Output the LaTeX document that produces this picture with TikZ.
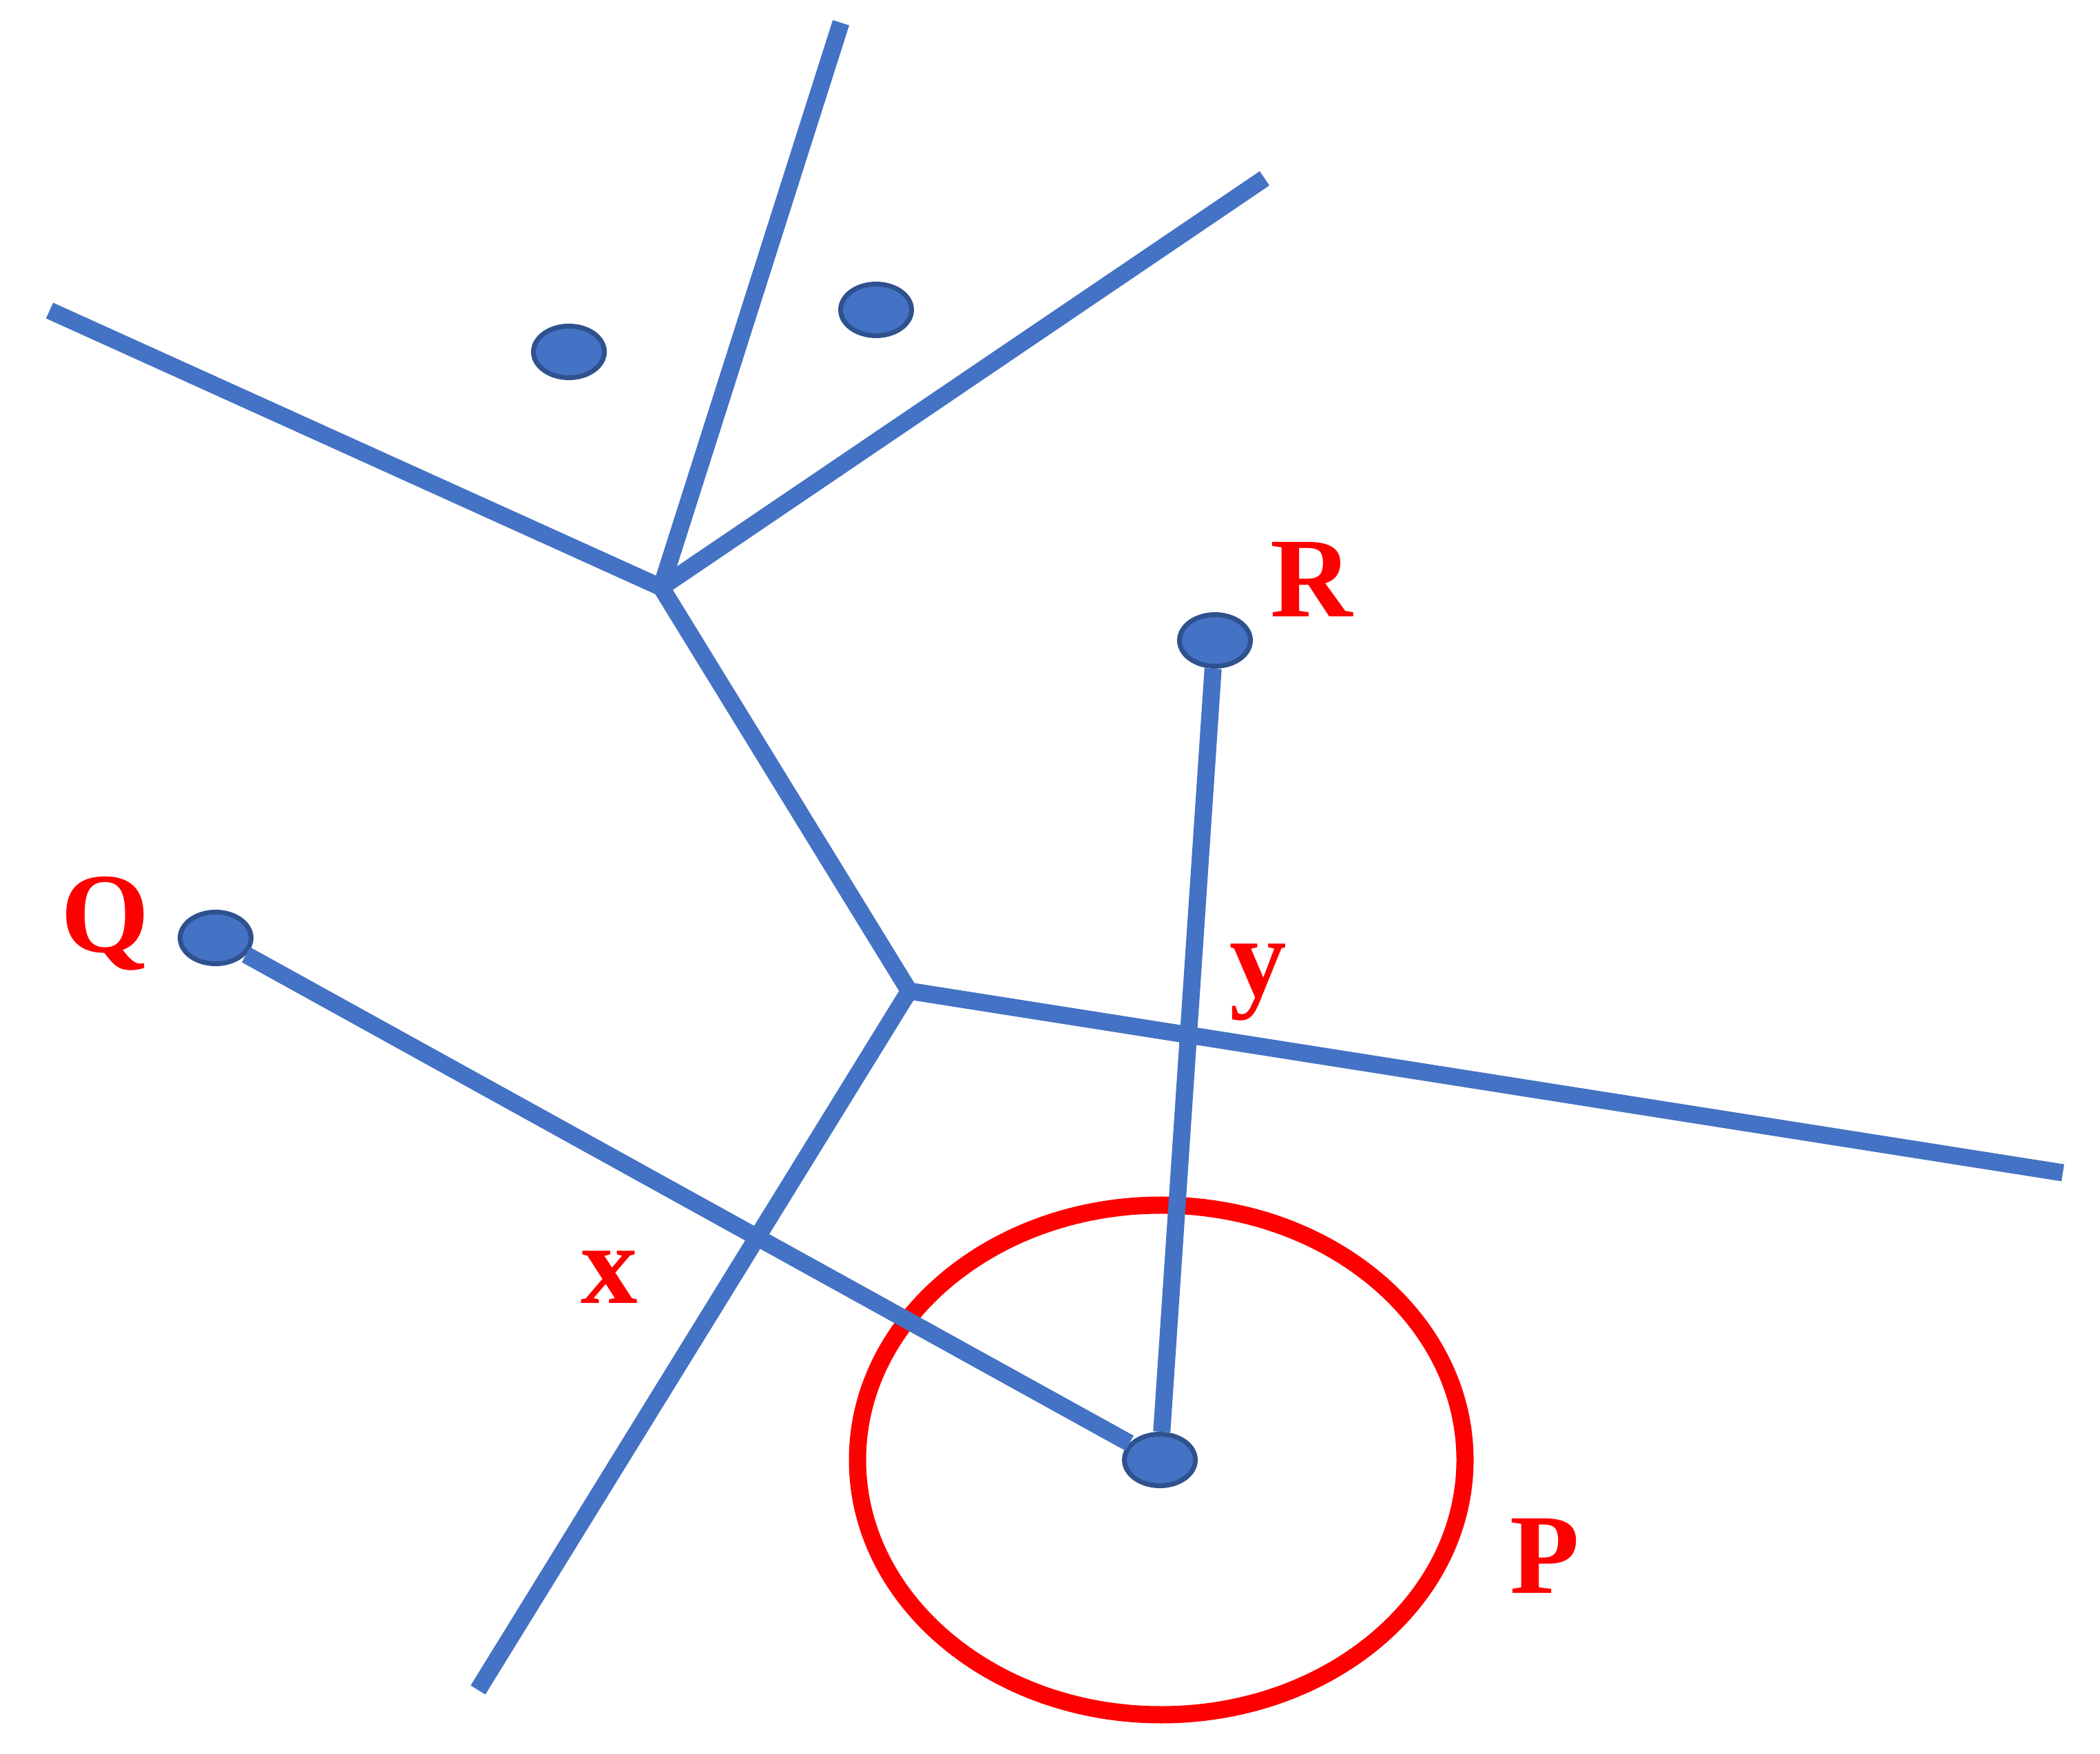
\documentclass[tikz,border=0pt]{standalone}
\usepackage{fontspec}
\setmainfont{Liberation Serif}
\usepackage{tikz}
\usetikzlibrary{shapes.geometric, positioning, calc}
\definecolor{edgeblue}{RGB}{68, 114, 196}
\definecolor{dotborder}{RGB}{47, 82, 143}
\definecolor{ringred}{RGB}{255, 0, 0}
\tikzset{
  celledge/.style={line width=0.25cm, edgeblue},
  siteline/.style={line width=0.25cm, edgeblue},
  sitedot/.style={ellipse, draw=dotborder, fill=edgeblue, line width=0.07cm, minimum width=1.03cm, minimum height=0.75cm, inner sep=0pt},
  ptlabel/.style={text=ringred, font=\bfseries\fontsize{47}{56}\selectfont, anchor=base, inner sep=0pt},
  ring/.style={line width=0.25cm, ringred}
}
\begin{document}
\begin{tikzpicture}
\useasboundingbox (0,0) rectangle (30.49,25.46);
% Voronoi vertices and edge ends
\coordinate (va) at (9.60,16.93);
\coordinate (vb) at (13.20,11.07);
\coordinate (e1) at (0.72,20.95);
\coordinate (e2) at (12.21,25.13);
\coordinate (e3) at (18.36,22.87);
\coordinate (e4) at (29.95,8.43);
\coordinate (e5) at (6.94,0.92);
\draw[celledge] (e1) -- (va);
\draw[celledge] (e2) -- (va);
\draw[celledge] (e3) -- (va);
\draw[celledge] (va) -- (vb);
\draw[celledge] (vb) -- (e4);
\draw[celledge] (vb) -- (e5);
% circle round P
\draw[ring] (16.86,4.26) ellipse [x radius=4.41, y radius=3.70];
% sites
\node[sitedot] (s1) at (8.26,20.35) {};
\node[sitedot] (s2) at (12.72,20.96) {};
\node[sitedot] (r) at (17.64,16.16) {};
\node[sitedot] (q) at (3.13,11.84) {};
\node[sitedot] (p) at (16.84,4.26) {};
\draw[siteline] (q) -- (p);
\draw[siteline] (r) -- (p);
% labels
\node[ptlabel] (lr) at (19.04,16.50) {R};
\node[ptlabel] (lq) at (1.53,11.63) {Q};
\node[ptlabel] (lp) at (22.43,2.33) {P};
\node[ptlabel] (lx) at (8.85,6.53) {x};
\node[ptlabel] (ly) at (18.27,10.99) {y};
\end{tikzpicture}
\end{document}
